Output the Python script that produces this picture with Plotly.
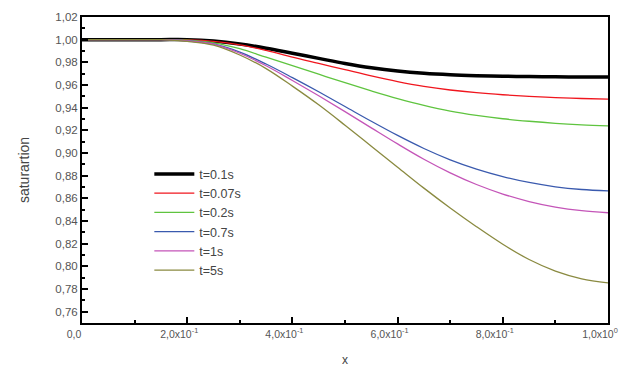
import plotly.graph_objects as go

x = [0.0, 0.1, 0.15, 0.2, 0.25, 0.3, 0.35, 0.4, 0.45, 0.5, 0.55, 0.6, 0.65, 0.7, 0.75, 0.8, 0.85, 0.9, 0.95, 1.0]

s_t01 = [1.0, 1.0, 1.0, 1.0, 0.9988, 0.9962, 0.9925, 0.988, 0.9835, 0.979, 0.9752, 0.9723, 0.9703, 0.969, 0.9682, 0.9677, 0.9674, 0.9672, 0.9671, 0.967]
s_t007 = [1.0, 1.0, 1.0, 0.9998, 0.9985, 0.9955, 0.9905, 0.9845, 0.979, 0.9735, 0.968, 0.963, 0.9588, 0.9556, 0.9532, 0.9514, 0.950, 0.9489, 0.9481, 0.9476]
s_t02 = [1.0, 1.0, 1.0, 0.9995, 0.9972, 0.992, 0.9845, 0.977, 0.9695, 0.962, 0.9548, 0.948, 0.942, 0.937, 0.9332, 0.9302, 0.928, 0.9262, 0.9249, 0.924]
s_t07 = [1.0, 1.0, 1.0, 0.999, 0.9962, 0.989, 0.9785, 0.9665, 0.954, 0.941, 0.928, 0.9155, 0.904, 0.894, 0.8858, 0.8792, 0.874, 0.8702, 0.8678, 0.8665]
s_t1 = [1.0, 1.0, 1.0, 0.999, 0.996, 0.988, 0.977, 0.964, 0.9505, 0.9365, 0.9222, 0.908, 0.8945, 0.8825, 0.8722, 0.8638, 0.8572, 0.8523, 0.8491, 0.8473]
s_t5 = [1.0, 1.0, 1.0, 0.9985, 0.9952, 0.9865, 0.9745, 0.959, 0.9425, 0.9245, 0.906, 0.8875, 0.869, 0.8515, 0.835, 0.8195, 0.806, 0.7958, 0.789, 0.7854]

names = ["t=0.1s", "t=0.07s", "t=0.2s", "t=0.7s", "t=1s", "t=5s"]
series = [s_t01, s_t007, s_t02, s_t07, s_t1, s_t5]
colors = ["#000000", "#f0161e", "#5fc43f", "#3a5aae", "#c455b8", "#8a8a40"]
widths = [3.5, 1.3, 1.3, 1.3, 1.3, 1.3]

x_tickvals = [0.0, 0.2, 0.4, 0.6, 0.8, 1.0]
x_ticktext = ["0,0", "2,0x10<sup>-1</sup>", "4,0x10<sup>-1</sup>", "6,0x10<sup>-1</sup>",
              "8,0x10<sup>-1</sup>", "1,0x10<sup>0</sup>"]
y_tickvals = [0.76, 0.78, 0.80, 0.82, 0.84, 0.86, 0.88, 0.90, 0.92, 0.94, 0.96, 0.98, 1.00, 1.02]
y_ticktext = [f"{v:.2f}".replace(".", ",") for v in y_tickvals]

fig = go.Figure()
for n, s, c, w in zip(names, series, colors, widths):
    fig.add_trace(go.Scatter(x=x, y=s, name=n, mode="lines",
                             line=dict(color=c, width=w, shape="spline", smoothing=1.0)))

fig.update_layout(
    width=644, height=367,
    margin=dict(l=82, r=36, t=17, b=44),
    paper_bgcolor="white", plot_bgcolor="white",
    font=dict(family="Liberation Sans, Arial, sans-serif", color="#555555", size=11),
    showlegend=True,
    legend=dict(x=0.128, y=0.535, xanchor="left", yanchor="top",
                bgcolor="rgba(0,0,0,0)", font=dict(size=12.5, color="#444444"),
                tracegroupgap=0, itemwidth=40),
    xaxis=dict(range=[0, 1.0], tickvals=x_tickvals, ticktext=x_ticktext, automargin=False,
               ticks="inside", ticklen=6, tickwidth=2, tickcolor="black",
               tickfont=dict(size=10.5, color="#555555"), ticklabelshift=-8,
               minor=dict(dtick=0.1, ticks="inside", ticklen=3, tickwidth=2, tickcolor="black"),
               showline=True, linecolor="black", linewidth=2, mirror=True,
               showgrid=False, zeroline=False,
               title=dict(text="x", font=dict(size=12, color="#444444"), standoff=18)),
    yaxis=dict(range=[0.75, 1.02], tickvals=y_tickvals, ticktext=y_ticktext, automargin=False,
               ticks="inside", ticklen=6, tickwidth=2, tickcolor="black",
               tickfont=dict(size=11.5, color="#555555"),
               minor=dict(dtick=0.01, tick0=0.75, ticks="inside", ticklen=3, tickwidth=2, tickcolor="black"),
               showline=True, linecolor="black", linewidth=2, mirror=True,
               showgrid=False, zeroline=False,
               title=dict(text="saturartion", font=dict(size=14, color="#444444"), standoff=22)),
)

fig.write_html("out.html")
